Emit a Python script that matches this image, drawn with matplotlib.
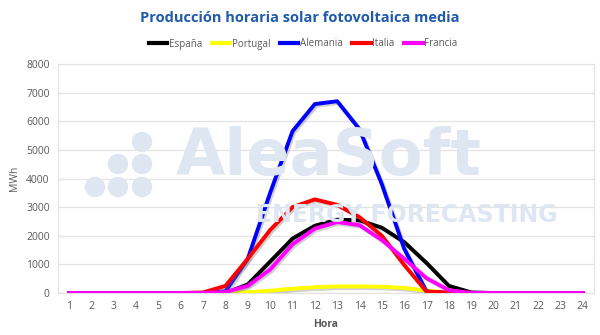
import matplotlib
matplotlib.use("Agg")
import matplotlib.pyplot as plt
import matplotlib.patheffects as pe
from matplotlib.patches import Ellipse

horas = list(range(1, 25))
espana = [0, 0, 0, 0, 0, 0, 0, 0, 300, 1100, 1900, 2350, 2560, 2540, 2280, 1780, 1050, 250, 20, 0, 0, 0, 0, 0]
portugal = [0, 0, 0, 0, 0, 0, 0, 0, 30, 80, 150, 200, 230, 230, 220, 180, 80, 10, 0, 0, 0, 0, 0, 0]
alemania = [0, 0, 0, 0, 0, 0, 0, 60, 1200, 3500, 5650, 6600, 6700, 5720, 3800, 1550, 50, 0, 0, 0, 0, 0, 0, 0]
italia = [0, 0, 0, 0, 0, 0, 20, 250, 1200, 2200, 3000, 3270, 3080, 2650, 2000, 980, 50, 20, 0, 0, 0, 0, 0, 0]
francia = [0, 0, 0, 0, 0, 0, 0, 30, 250, 820, 1700, 2250, 2480, 2370, 1850, 1200, 520, 100, 0, 0, 0, 0, 0, 0]

series = [
    ("España", espana, "#000000"),
    ("Portugal", portugal, "#ffff00"),
    ("Alemania", alemania, "#0000ff"),
    ("Italia", italia, "#ff0000"),
    ("Francia", francia, "#ff00ff"),
]

plt.rcParams["font.family"] = ["Open Sans", "DejaVu Sans"]

W, H = 600, 335
fig = plt.figure(figsize=(W / 100, H / 100), dpi=100)
ax = fig.add_axes([58 / W, 1 - 293 / H, 536 / W, 229 / H])

# watermark logo
wm = "#dde6f1"
fig.text(0.548, 0.53, "AleaSoft", fontsize=46, fontweight="bold", color=wm,
         ha="center", va="center", zorder=0, family="DejaVu Sans")
fig.text(0.678, 0.358, "ENERGY FORECASTING", fontsize=17, fontweight="bold", color=wm,
         ha="center", va="center", zorder=0, family="DejaVu Sans")
for (cx, cy) in [(142, 142), (118, 164), (142, 164), (95, 187), (118, 187), (142, 187)]:
    r = 9.5
    fig.patches.append(Ellipse((cx / W, 1 - cy / H), 2 * r / W, 2 * r / H,
                               transform=fig.transFigure, color=wm, zorder=0))
ax.set_facecolor("none")

for name, vals, col in series:
    ax.plot(horas, vals, color=col, lw=2.8, label=name, solid_joinstyle="round",
            path_effects=[pe.SimpleLineShadow(offset=(1.2, -1.2), shadow_color="#777777", alpha=0.35),
                          pe.Normal()],
            zorder=3)

ax.set_xlim(0.5, 24.5)
ax.set_ylim(0, 8000)
ax.set_xticks(horas)
ax.set_yticks(range(0, 8001, 1000))
ax.grid(axis="y", color="#e3e3e3", lw=0.9)
ax.set_axisbelow(True)
for s in ax.spines.values():
    s.set_color("#e3e3e3")
    s.set_linewidth(0.9)
ax.tick_params(length=0, colors="#595959", labelsize=7.5, pad=6)
ax.set_ylabel("MWh", fontsize=7.5, color="#595959", labelpad=4)
ax.set_xlabel("Hora", fontsize=7.5, color="#595959", fontweight="bold", labelpad=5)

fig.text(0.5, 1 - 18 / H, "Producción horaria solar fotovoltaica media", ha="center", va="center",
         fontsize=10.5, fontweight="bold", color="#1f5baa")

leg = fig.legend(loc="center", bbox_to_anchor=(0.505, 1 - 44 / H), ncol=5, frameon=False,
                 fontsize=7, handlelength=1.9, handletextpad=0.15, columnspacing=1.0)
for t in leg.get_texts():
    t.set_color("#595959")
for h in leg.legend_handles:
    h.set_linewidth(3)
    h.set_path_effects([])

fig.savefig("out.png", dpi=100)
